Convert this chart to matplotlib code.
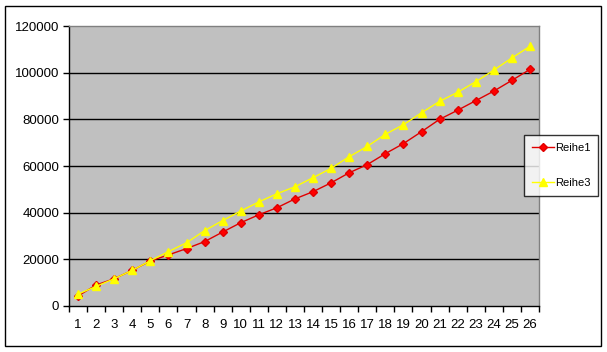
import matplotlib
matplotlib.use("Agg")
import matplotlib.pyplot as plt
from matplotlib.patches import Rectangle
from matplotlib.lines import Line2D

categories = list(range(1, 27))
reihe1 = [4300, 9000, 11700, 15300, 19300, 21900, 24600, 27600, 31700, 35700,
          39100, 42100, 45900, 49000, 52800, 57100, 60600, 65300, 69600, 74700,
          80000, 83900, 88000, 92100, 96700, 101400]
reihe3 = [5100, 8400, 11700, 15300, 19400, 23300, 27100, 32300, 36600, 40700,
          44600, 48100, 51100, 55000, 59000, 64000, 68400, 73600, 77700, 82800,
          87700, 91600, 96100, 101100, 106300, 111300]
yticks = [0, 20000, 40000, 60000, 80000, 100000, 120000]

W, H = 607, 352
fig = plt.figure(figsize=(W / 100, H / 100), dpi=100)
fig.patch.set_facecolor("white")
plt.rcParams['font.family'] = ['Liberation Sans', 'DejaVu Sans']

# outer border
fig.add_artist(Rectangle((5 / W, 6 / H), (601 - 5) / W, (346 - 6) / H,
                         transform=fig.transFigure, fill=False,
                         edgecolor="black", linewidth=1.0))

left, right, top, bottom = 69, 539, 26, 306
ax = fig.add_axes([left / W, (H - bottom) / H, (right - left) / W, (bottom - top) / H])
ax.set_facecolor("#C0C0C0")

x = [c - 0.5 for c in categories]
ax.plot(x, reihe1, color="#E00000", linewidth=1.0, marker="D", markersize=4,
        markerfacecolor="#FF0000", markeredgecolor="#E00000", label="Reihe1", zorder=3)
ax.plot(x, reihe3, color="#FFFF00", linewidth=1.0, marker="^", markersize=6,
        markerfacecolor="#FFFF00", markeredgecolor="#FFFF00", label="Reihe3", zorder=4)

ax.set_xlim(0, len(categories))
ax.set_ylim(0, 120000)
ax.set_yticks(yticks)
ax.set_yticklabels([str(v) for v in yticks])
ax.set_xticks(range(0, len(categories) + 1))
ax.set_xticklabels([])
ax.set_xticks(x, minor=True)
ax.set_xticklabels([str(c) for c in categories], minor=True)
ax.tick_params(axis="x", which="major", direction="out", length=4, width=1, color="black")
ax.tick_params(axis="x", which="minor", length=0, pad=9, labelsize=9.5)
ax.tick_params(axis="y", direction="out", length=4, width=1, color="black", labelsize=9.5, pad=3)

for v in yticks[1:-1]:
    ax.axhline(v, color="black", linewidth=1.0, zorder=1)

ax.spines["left"].set_color("black")
ax.spines["bottom"].set_color("black")
ax.spines["top"].set_color("#808080")
ax.spines["right"].set_color("#808080")
for s in ax.spines.values():
    s.set_linewidth(1.0)

handles = [Line2D([0], [0], color="#E00000", marker="D", markersize=4, markerfacecolor="#FF0000", linewidth=1.0),
           Line2D([0], [0], color="#FFFF00", marker="^", markersize=6, linewidth=1.0)]
leg = fig.legend(handles, ["Reihe1", "Reihe3"], loc="upper left",
                 bbox_to_anchor=(524 / W, 1 - 135 / H), bbox_transform=fig.transFigure,
                 frameon=True, fancybox=False, fontsize=8, handlelength=2.0,
                 labelspacing=2.3, borderpad=0.7, handletextpad=0.1, borderaxespad=0)
leg.get_frame().set_edgecolor("black")
leg.get_frame().set_linewidth(1.0)

fig.savefig("out.png", dpi=100, facecolor="white")
